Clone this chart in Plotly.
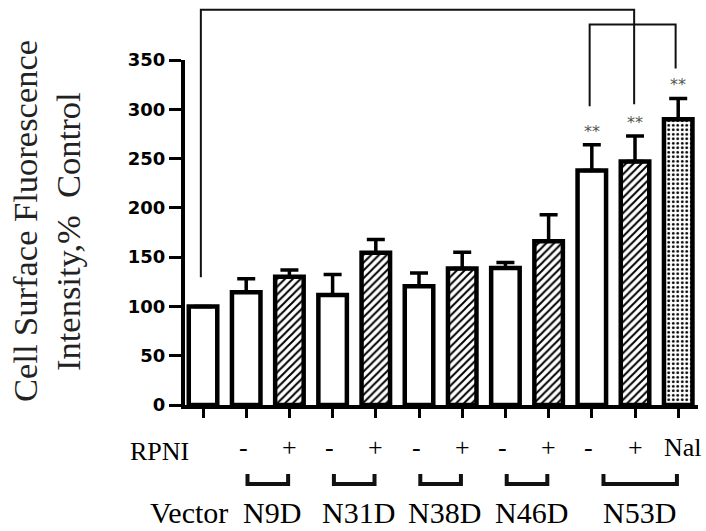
import plotly.graph_objects as go

# ---------------- data ----------------
categories = ["Vector", "N9D -", "N9D +", "N31D -", "N31D +", "N38D -", "N38D +",
              "N46D -", "N46D +", "N53D -", "N53D +", "Nal"]
values = [100, 114.5, 130, 111.5, 154.5, 120.5, 138.5, 139, 166, 238, 247, 290]
err_upper = [0, 13.5, 7, 21, 13.5, 13.5, 16.5, 5.5, 27, 26, 26, 21]
fill_kind = ["open", "open", "hatch", "open", "hatch", "open", "hatch",
             "open", "hatch", "open", "hatch", "dots"]
rpni_labels = ["", "-", "+", "-", "+", "-", "+", "-", "+", "-", "+", "Nal"]
groups = [("N9D", 1, 2), ("N31D", 3, 4), ("N38D", 5, 6), ("N46D", 7, 8), ("N53D", 9, 11)]
signif = ["", "", "", "", "", "", "", "", "", "**", "**", "**"]
y_ticks = [0, 50, 100, 150, 200, 250, 300, 350]

# ---------------- layout constants ----------------
W, H = 706, 531
ML, MR, MT, MB = 185, 8, 60, 126
YMAX = 350
XR = [-0.417, 11.458]
pw = W - ML - MR
ph = H - MT - MB

def px2paper_y(py):
    return (H - MB - py) / ph

def px2paper_x(px):
    return (px - ML) / pw

def val2paper(v):
    return v / YMAX

shape_map = {"open": "", "hatch": "/", "dots": "."}
size_map = {"open": 6, "hatch": 5.5, "dots": 4.5}
sol_map = {"open": 0.3, "hatch": 0.35, "dots": 0.3}

fig = go.Figure()
fig.add_trace(go.Bar(
    x=categories, y=values, width=0.66,
    marker=dict(
        color="white",
        line=dict(color="black", width=4.5),
        pattern=dict(shape=[shape_map[k] for k in fill_kind],
                     size=[size_map[k] for k in fill_kind],
                     solidity=[sol_map[k] for k in fill_kind],
                     fgcolor="black", bgcolor="white", fillmode="replace"),
    ),
    error_y=dict(type="data", symmetric=False, array=err_upper,
                 arrayminus=[0] * len(values), color="black",
                 thickness=3.5, width=9, visible=True),
    showlegend=False,
))

annotations = []
# significance stars
for c, v, e, s in zip(categories, values, err_upper, signif):
    if s:
        annotations.append(dict(x=c, y=v + e, xref="x", yref="y", text=s,
                                showarrow=False, yanchor="bottom", yshift=2,
                                font=dict(family="DejaVu Sans", size=16, color="#555555")))

# RPNI row
annotations.append(dict(x=px2paper_x(159), y=px2paper_y(451), xref="paper", yref="paper",
                        text="RPNI", showarrow=False, xanchor="center", yanchor="middle",
                        font=dict(family="Liberation Serif", size=26, color="black")))
for c, t in zip(categories, rpni_labels):
    if t:
        annotations.append(dict(x=c, y=px2paper_y(447), xref="x", yref="paper", text=t,
                                showarrow=False, xanchor="center", yanchor="middle",
                                xshift=(5 if t == "Nal" else (-3 if t == "-" else 0)),
                                font=dict(family="Liberation Serif", size=26, color="black")))

# bottom group labels
label_bottom = px2paper_y(530.5)
annotations.append(dict(x=0, y=label_bottom, xref="x", yref="paper", text="Vector",
                        showarrow=False, xanchor="center", yanchor="bottom", xshift=-14,
                        font=dict(family="Liberation Serif", size=30, color="black")))
shapes = []
for name, i0, i1 in groups:
    annotations.append(dict(x=(i0 + i1) / 2, y=label_bottom, xref="x", yref="paper",
                            text=name, showarrow=False, xanchor="center", yanchor="bottom",
                            xshift=4,
                            font=dict(family="Liberation Serif", size=30, color="black")))
    a, b = i0 + 0.03, i1 - 0.03
    if i1 - i0 > 1:
        a = i0 + 0.27
    shapes.append(dict(type="path", xref="x", yref="paper",
                       path=f"M {a} {px2paper_y(474)} L {a} {px2paper_y(484)} L {b} {px2paper_y(484)} L {b} {px2paper_y(474)}",
                       line=dict(color="#111111", width=4)))

# y-axis title (two lines)
annotations.append(dict(x=px2paper_x(25), y=px2paper_y(221), xref="paper", yref="paper",
                        text="Cell Surface Fluorescence", textangle=-90, showarrow=False,
                        xanchor="center", yanchor="middle",
                        font=dict(family="Liberation Serif", size=34.5, color="#222222")))
annotations.append(dict(x=px2paper_x(68), y=px2paper_y(232), xref="paper", yref="paper",
                        text="Intensity,%  Control", textangle=-90, showarrow=False,
                        xanchor="center", yanchor="middle",
                        font=dict(family="Liberation Serif", size=34.5, color="#222222")))

# comparison brackets on top
big_top, inner_top = 401, 386
idx = {c: i for i, c in enumerate(categories)}
def vline_path(pts):
    return " ".join(("M" if k == 0 else "L") + f" {x} {val2paper(y)}" for k, (x, y) in enumerate(pts))

shapes.append(dict(type="path", xref="x", yref="paper",
                   path=vline_path([(idx["Vector"] - 0.05, 129.5), (idx["Vector"] - 0.05, big_top),
                                    (idx["N53D +"] - 0.02, big_top), (idx["N53D +"] - 0.02, 305)]),
                   line=dict(color="#111111", width=2)))
shapes.append(dict(type="path", xref="x", yref="paper",
                   path=vline_path([(idx["N53D -"] - 0.05, 303), (idx["N53D -"] - 0.05, inner_top),
                                    (idx["Nal"] - 0.06, inner_top), (idx["Nal"] - 0.06, 341.5)]),
                   line=dict(color="#111111", width=2)))

fig.update_layout(
    width=W, height=H,
    margin=dict(l=ML, r=MR, t=MT, b=MB, pad=0),
    paper_bgcolor="white", plot_bgcolor="white",
    bargap=0.34,
    xaxis=dict(type="category", range=XR, showgrid=False, zeroline=False,
               showline=True, linecolor="black", linewidth=4,
               ticks="outside", ticklen=9, tickwidth=3, tickcolor="black",
               showticklabels=False),
    yaxis=dict(range=[0, YMAX], tickvals=y_ticks, showgrid=False, zeroline=False,
               showline=True, linecolor="black", linewidth=4,
               ticks="outside", ticklen=12, tickwidth=3, tickcolor="black",
               tickfont=dict(family="DejaVu Sans", size=18, color="black", weight="bold")),
    annotations=annotations,
    shapes=shapes,
)

fig.write_html("out.html", config={"displayModeBar": False},
               post_script="document.body.style.margin='0';document.body.style.padding='0';document.body.style.overflow='hidden';")
